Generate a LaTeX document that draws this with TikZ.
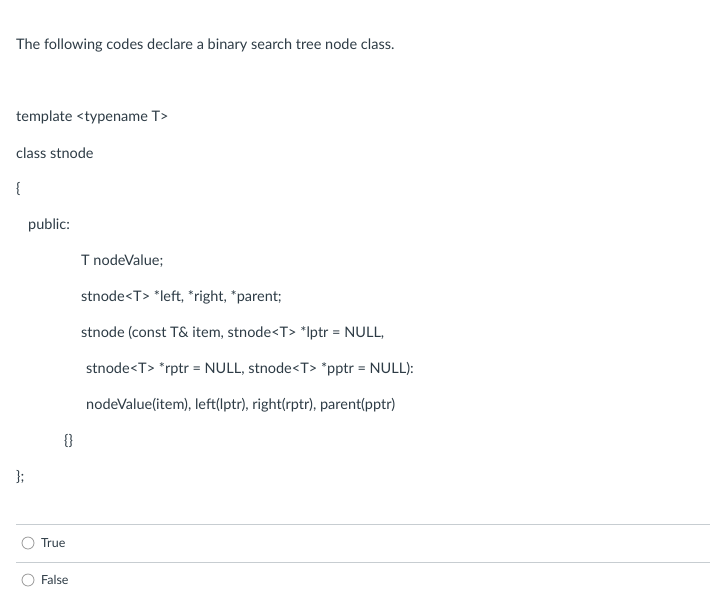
\documentclass[tikz,border=0pt]{standalone}
\usepackage{fontspec}
\setmainfont{Lato}
\definecolor{txt}{HTML}{2D3B45}
\definecolor{rule}{HTML}{C7CDD1}
\begin{document}
\begin{tikzpicture}[x=1pt,y=-1pt,
  t/.style={anchor=west,inner sep=0pt,text=txt,font=\fontsize{14.5}{17}\selectfont},
  s/.style={anchor=west,inner sep=0pt,text=txt,font=\fontsize{12.5}{15}\selectfont},
  radio/.style={draw=gray!80,line width=0.8pt,fill=white}]
\useasboundingbox (0,0) rectangle (727,613);
\node[t] (l1) at (16,45) {The following codes declare a binary search tree node class.};
\node[t] (l2) at (16,117) {template <typename T>};
\node[t] (l3) at (16,153) {class stnode};
\node[t] (l4) at (16,189) {\{};
\node[t] (l5) at (28,225) {public:};
\node[t] (l6) at (81,261) {T nodeValue;};
\node[t] (l7) at (81,297) {stnode<T> *left, *right, *parent;};
\node[t] (l8) at (81,333) {stnode (const T\& item, stnode<T> *lptr = NULL,};
\node[t] (l9) at (86,369) {stnode<T> *rptr = NULL, stnode<T> *pptr = NULL):};
\node[t] (l10) at (86,405) {nodeValue(item), left(lptr), right(rptr), parent(pptr)};
\node[t] (l11) at (64,441) {\{\}};
\node[t] (l12) at (16,477) {\};};
\draw[rule,line width=0.8pt] (16,524) -- (710,524);
\draw[rule,line width=0.8pt] (16,562) -- (710,562);
\draw[radio] (28,543) circle (6);
\node[s] (tr) at (41,543) {True};
\draw[radio] (28,580) circle (6);
\node[s] (fa) at (41,580) {False};
\end{tikzpicture}
\end{document}
